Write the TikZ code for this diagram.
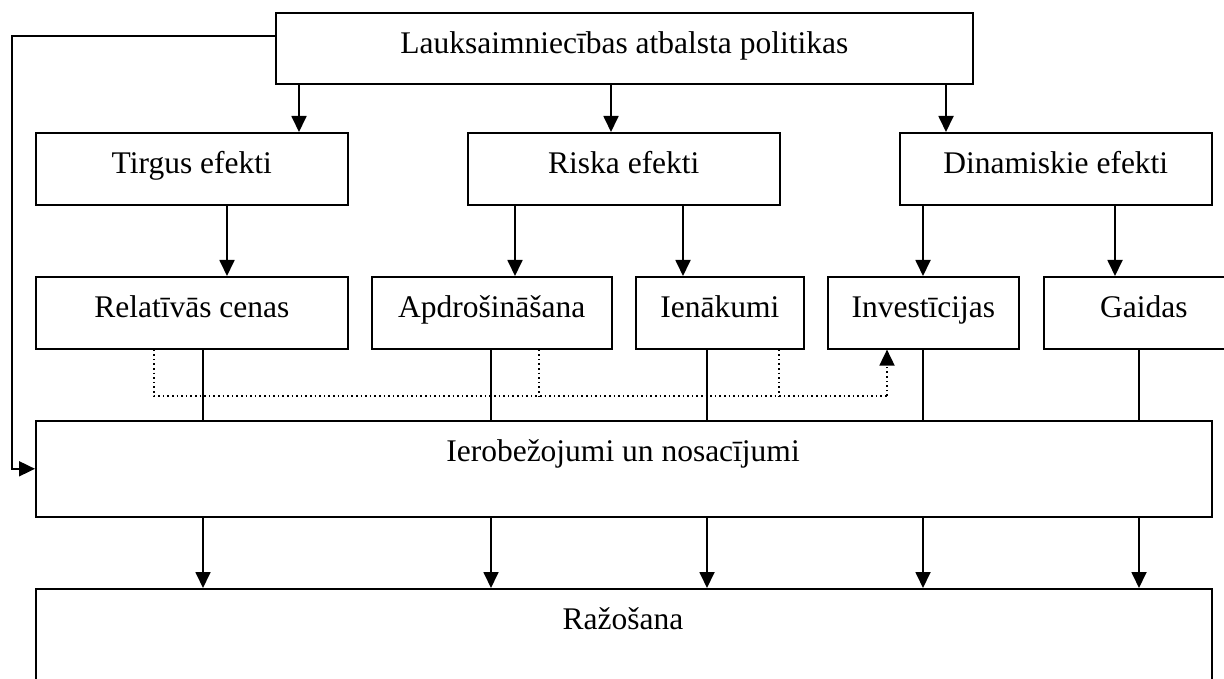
\documentclass[tikz,border=0pt]{standalone}
\usepackage{fontspec}
\setmainfont{Liberation Serif}
\usetikzlibrary{arrows.meta}
\tikzset{
  box/.style={draw, line width=1.6pt, inner sep=0pt, anchor=north west, text height=21pt, text depth=11pt, font=\fontsize{31.5}{36}\selectfont},
  lbl/.style={inner sep=0pt, anchor=base, font=\fontsize{31.5}{36}\selectfont},
  arr/.style={line width=1.8pt, -{Triangle[length=16pt,width=15pt]}},
  link/.style={line width=1.6pt},
  dots/.style={line width=1.6pt, dash pattern=on 1.6pt off 3pt}
}
\begin{document}
\begin{tikzpicture}[x=1pt, y=-1pt]
		\useasboundingbox (0,0) rectangle (1224,679);
		% boxes
		\node[box, minimum width=697, minimum height=71] (policy) at (275,12) {Lauksaimniecības atbalsta politikas};
		\node[box, minimum width=312, minimum height=72] (market) at (35,132) {Tirgus efekti};
		\node[box, minimum width=312, minimum height=72] (risk) at (467,132) {Riska efekti};
		\node[box, minimum width=312, minimum height=72] (dynamic) at (899,132) {Dinamiskie efekti};
		\node[box, minimum width=312, minimum height=72] (prices) at (35,276) {Relatīvās cenas};
		\node[box, minimum width=240, minimum height=72] (insur) at (371,276) {Apdrošināšana};
		\node[box, minimum width=168, minimum height=72] (income) at (635,276) {Ienākumi};
		\node[box, minimum width=191, minimum height=72] (invest) at (827,276) {Investīcijas};
		\node[box, minimum width=200, minimum height=72] (expect) at (1043,276) {Gaidas};
		\node[box, minimum width=1176, minimum height=96] (limits) at (35,420) {};
		\node[lbl] (limitstxt) at (623,461) {Ierobežojumi un nosacījumi};
		\node[box, minimum width=1176, minimum height=120] (prod) at (35,588) {};
		\node[lbl] (prodtxt) at (623,629) {Ražošana};
		% policy to effects
		\draw[arr] (policy.south -| 299,0) -- (299,0 |- market.north);
		\draw[arr] (policy.south -| 611,0) -- (611,0 |- risk.north);
		\draw[arr] (policy.south -| 946,0) -- (946,0 |- dynamic.north);
		\coordinate (fbtop) at (12,36);
		\draw[arr] (fbtop -| policy.west) -- (fbtop) |- (limits.west);
		% effects to channels
		\draw[arr] (market.south -| 227,0) -- (227,0 |- prices.north);
		\draw[arr] (risk.south -| 515,0) -- (515,0 |- insur.north);
		\draw[arr] (risk.south -| 683,0) -- (683,0 |- income.north);
		\draw[arr] (dynamic.south -| 923,0) -- (923,0 |- invest.north);
		\draw[arr] (dynamic.south -| 1115,0) -- (1115,0 |- expect.north);
		% channels to limits
		\draw[link] (prices.south -| 203,0) -- (203,0 |- limits.north);
		\draw[link] (insur.south -| 491,0) -- (491,0 |- limits.north);
		\draw[link] (income.south -| 707,0) -- (707,0 |- limits.north);
		\draw[link] (invest.south -| 923,0) -- (923,0 |- limits.north);
		\draw[link] (expect.south -| 1139,0) -- (1139,0 |- limits.north);
		% dotted feed into investment
		\coordinate (dotrow) at (887,396);
		\draw[dots] (prices.south -| 154,0) |- (dotrow);
		\draw[dots, arr] (dotrow) -- (dotrow |- invest.south);
		\draw[dots] (insur.south -| 539,0) -- (539,396);
		\draw[dots] (income.south -| 779,0) -- (779,396);
		% limits to production
		\draw[arr] (limits.south -| 203,0) -- (203,0 |- prod.north);
		\draw[arr] (limits.south -| 491,0) -- (491,0 |- prod.north);
		\draw[arr] (limits.south -| 707,0) -- (707,0 |- prod.north);
		\draw[arr] (limits.south -| 923,0) -- (923,0 |- prod.north);
		\draw[arr] (limits.south -| 1139,0) -- (1139,0 |- prod.north);
	\end{tikzpicture}
\end{document}
